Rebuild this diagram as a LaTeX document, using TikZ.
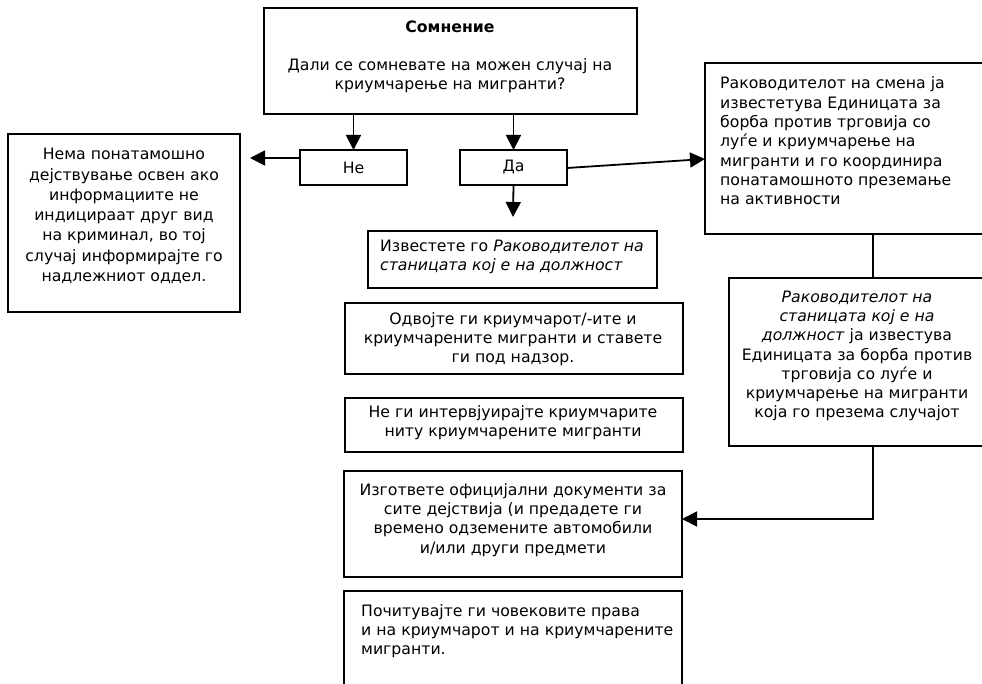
\documentclass[tikz,border=0pt]{standalone}
\usepackage{fontspec}
\setmainfont{DejaVu Sans}
\usetikzlibrary{arrows.meta,calc}
\tikzset{
  box/.style={draw, line width=1.8pt, inner sep=0pt, outer sep=0pt, anchor=north west},
  txt/.style={inner sep=0pt, font=\fontsize{15.7}{19.3}\selectfont},
  conn/.style={line width=1.8pt},
  arr/.style={line width=1.8pt, -{Triangle[length=15pt,width=15pt]}}
}
\begin{document}
\begin{tikzpicture}[x=1pt,y=-1pt]
\useasboundingbox (0,0) rectangle (982,684);
\clip (0,0) rectangle (982,684);
\fill[white] (0,0) rectangle (982,684);
% boxes
\node[box, minimum width=373pt, minimum height=106pt] (top) at (264,8) {};
\node[box, minimum width=107pt, minimum height=35pt] (ne) at (300,150) {};
\node[box, minimum width=107pt, minimum height=35pt] (da) at (460,150) {};
\node[box, minimum width=232pt, minimum height=178pt] (left) at (8,134) {};
\node[box, minimum width=300pt, minimum height=171pt] (r1) at (705,63) {};
\node[box, minimum width=280pt, minimum height=168pt] (r2) at (729,278) {};
\node[box, minimum width=289pt, minimum height=57pt] (izv) at (368,231) {};
\node[box, minimum width=338pt, minimum height=71pt] (odv) at (345,303) {};
\node[box, minimum width=338pt, minimum height=54pt] (negi) at (345,398) {};
\node[box, minimum width=338pt, minimum height=106pt] (izg) at (344,471) {};
\node[box, minimum width=338pt, minimum height=120pt] (poc) at (344,591) {};
% texts
\node[txt, align=center] (ttop) at (450,57) {\textbf{Сомнение}\\[19pt]Дали се сомневате на можен случај на\\криумчарење на мигранти?};
\node[txt] (tne) at (ne) {Не};
\node[txt] (tda) at (da) {Да};
\node[txt, align=center, font=\fontsize{15.7}{20.3}\selectfont] (tleft) at (124,216) {Нема понатамошно\\дејствување освен ако\\информациите не\\индицираат друг вид\\на криминал, во тој\\случај информирајте го\\надлежниот оддел.};
\node[txt, align=left, anchor=west] (tr1) at (720,141) {Раководителот на смена ја\\известетува Единицата за\\борба против трговија со\\луѓе и криумчарење на\\мигранти и го координира\\понатамошното преземање\\на активности};
\node[txt, align=center] (tr2) at (857,356) {\textit{Раководителот на}\\\textit{станицата кој е на}\\\textit{должност} ја известува\\Единицата за борба против\\трговија со луѓе и\\криумчарење на мигранти\\која го презема случајот};
\node[txt, align=left, anchor=west] (tizv) at (380,257) {Известете го \textit{Раководителот на}\\\textit{станицата кој е на должност}};
\node[txt, align=center] (todv) at (513,339) {Одвојте ги криумчарот/-ите и\\криумчарените мигранти и ставете\\ги под надзор.};
\node[txt, align=center] (tnegi) at (513,423) {Не ги интервјуирајте криумчарите\\ниту криумчарените мигранти};
\node[txt, align=center] (tizg) at (513,520) {Изгответе официјални документи за\\сите дејствија (и предадете ги\\времено одземените автомобили\\и/или други предмети};
\node[txt, align=left, anchor=west] (tpoc) at (361,631) {Почитувајте ги човековите права\\и на криумчарот и на криумчарените\\мигранти.};
% coordinates
\coordinate (nestart) at (300,158);
\coordinate (leftin) at (240,158);
\coordinate (dastart) at (567,168);
\coordinate (r1in) at (705,159);
\coordinate (daend) at (513,217);
\coordinate (r2top) at (873,278);
\coordinate (izgin) at (682,519);
% connectors
\draw[arr] (top.south -| ne.north) -- (ne.north);
\draw[arr] (top.south -| da.north) -- (da.north);
\draw[arr, shorten >=10pt] (nestart) -- (leftin);
\draw[arr] (dastart) -- (r1in);
\draw[arr] (da.south) -- (daend);
\draw[conn] (r1.south -| r2top) -- (r2top);
\draw[arr] (r2.south -| r2top) |- (izgin);
\end{tikzpicture}
\end{document}
